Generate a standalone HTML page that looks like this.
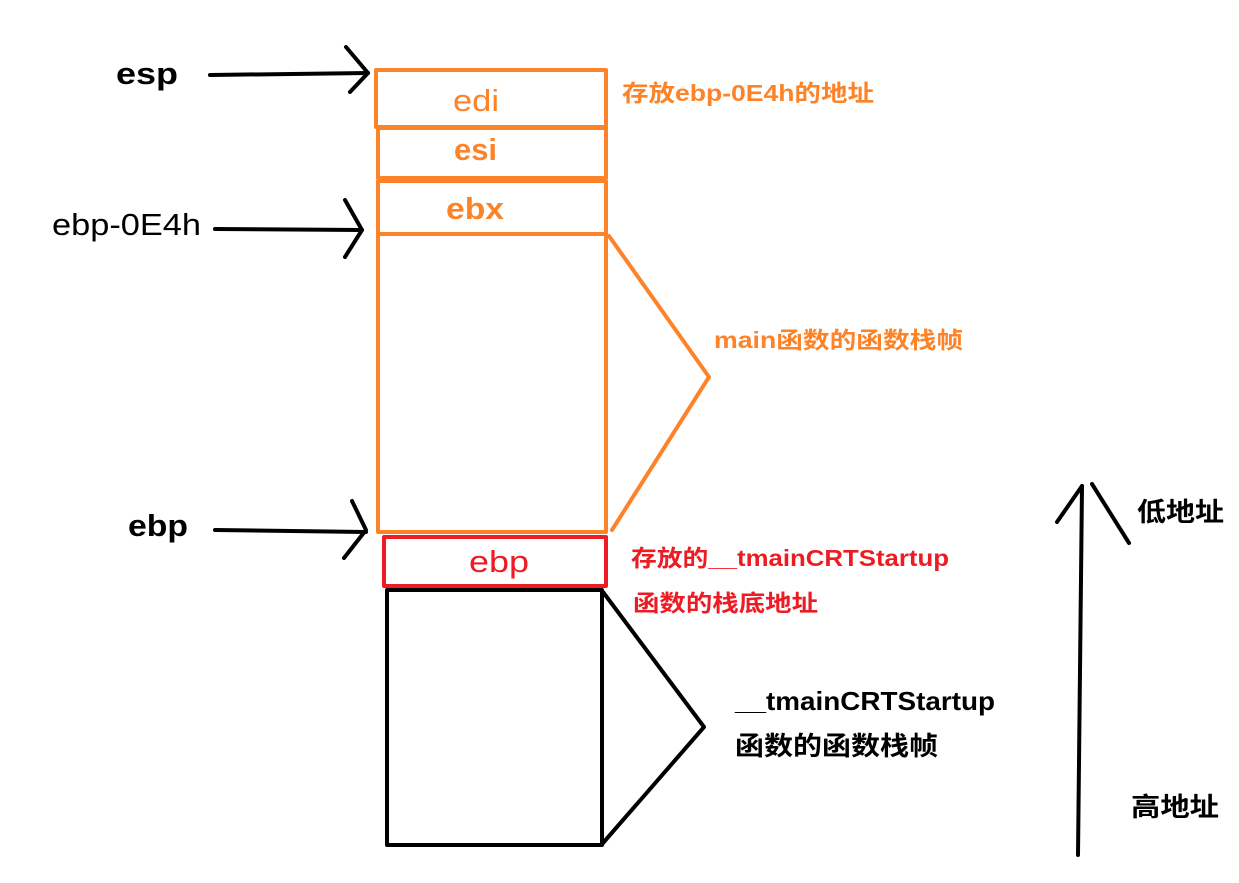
<!DOCTYPE html>
<html><head><meta charset="utf-8"><style>
html,body{margin:0;padding:0;background:#fff;}
svg{display:block;}
text{font-family:"Liberation Sans","Noto Sans CJK SC",sans-serif;}
</style></head><body>
<svg width="1239" height="883" viewBox="0 0 1239 883" xmlns="http://www.w3.org/2000/svg">
<g fill="none" stroke-linecap="round" stroke-linejoin="round">
<g stroke="#fd8329" stroke-width="4">
<rect x="376" y="70" width="230" height="57"/>
<rect x="378" y="128" width="228" height="50"/>
<rect x="378" y="181" width="228" height="53"/>
<rect x="378" y="234" width="228" height="298"/>
<polyline points="609,236 709,377 612,530"/>
</g>
<rect x="384" y="537" width="222" height="49" stroke="#ed1c24" stroke-width="4"/>
<g stroke="#000" stroke-width="4">
<rect x="387" y="590" width="215" height="255"/>
<polyline points="603,592 704,727 603,843"/>
<line x1="210" y1="75" x2="368" y2="73"/>
<polyline points="346,47 368,73 350,92"/>
<line x1="215" y1="229" x2="362" y2="230"/>
<polyline points="345,200 362,230 345,257"/>
<line x1="215" y1="530" x2="366" y2="532"/>
<polyline points="352,501 366,530 344,558"/>
<line x1="1078" y1="855" x2="1082" y2="486"/>
<line x1="1057" y1="522" x2="1082" y2="486"/>
<line x1="1092" y1="484" x2="1129" y2="543"/>
</g>
</g>
<g font-size="31" lengthAdjust="spacingAndGlyphs">
<text x="116" y="84" font-weight="bold" textLength="62" lengthAdjust="spacingAndGlyphs">esp</text>
<text x="52" y="235" textLength="149" lengthAdjust="spacingAndGlyphs">ebp-0E4h</text>
<text x="128" y="536" font-weight="bold" textLength="60" lengthAdjust="spacingAndGlyphs">ebp</text>
<text x="453" y="111" fill="#fd8329" textLength="46" lengthAdjust="spacingAndGlyphs">edi</text>
<text x="454" y="160" fill="#fd8329" font-weight="bold" textLength="43" lengthAdjust="spacingAndGlyphs">esi</text>
<text x="446" y="219" fill="#fd8329" font-weight="bold" textLength="58" lengthAdjust="spacingAndGlyphs">ebx</text>
<text x="469" y="572" fill="#ed1c24" textLength="60" lengthAdjust="spacingAndGlyphs">ebp</text>
</g>
<g font-size="23" font-weight="bold">
<text x="622" y="101" fill="#fd8329" textLength="252" lengthAdjust="spacingAndGlyphs">存放ebp-0E4h的地址</text>
<text x="714" y="348" fill="#fd8329" textLength="249" lengthAdjust="spacingAndGlyphs">main函数的函数栈帧</text>
<text x="631" y="566" fill="#ed1c24" textLength="318" lengthAdjust="spacingAndGlyphs">存放的__tmainCRTStartup</text>
<text x="633" y="611" fill="#ed1c24" textLength="185" lengthAdjust="spacingAndGlyphs">函数的栈底地址</text>
</g>
<g font-size="26" font-weight="bold">
<text x="735" y="710" textLength="260" lengthAdjust="spacingAndGlyphs">__tmainCRTStartup</text>
<text x="735" y="755" textLength="203" lengthAdjust="spacingAndGlyphs">函数的函数栈帧</text>
<text x="1137" y="521" textLength="87" lengthAdjust="spacingAndGlyphs">低地址</text>
<text x="1131" y="816" textLength="88" lengthAdjust="spacingAndGlyphs">高地址</text>
</g>
</svg>
</body></html>
